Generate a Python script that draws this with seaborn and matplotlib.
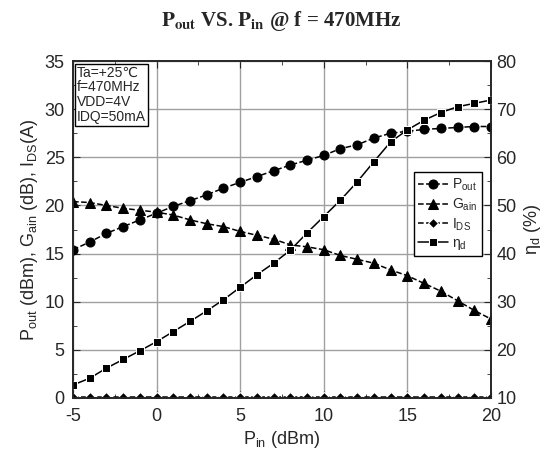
import numpy as np
import pandas as pd
import seaborn as sns
import matplotlib.pyplot as plt
from matplotlib.ticker import MultipleLocator

# data
pin = list(range(-5, 21))
pout = [15.4, 16.2, 17.1, 17.8, 18.5, 19.2, 19.9, 20.5, 21.1, 21.8, 22.4, 23.0, 23.6,
        24.2, 24.7, 25.2, 25.9, 26.3, 27.0, 27.5, 27.7, 27.9, 28.0, 28.1, 28.2, 28.2]
gain = [20.4, 20.3, 20.0, 19.7, 19.5, 19.3, 19.0, 18.5, 18.1, 17.8, 17.3, 16.9, 16.5,
        15.9, 15.7, 15.4, 14.8, 14.4, 14.0, 13.3, 12.7, 11.9, 11.1, 10.1, 9.1, 8.2]
ids = [0.15] * 26
eff = [12.7, 14.1, 16.2, 18.0, 19.8, 21.7, 23.8, 25.9, 28.1, 30.4, 33.0, 35.6, 38.0,
       40.7, 44.3, 47.7, 51.1, 54.9, 59.1, 63.2, 65.7, 67.7, 69.3, 70.5, 71.2, 71.9]

df = pd.DataFrame({"pin": pin, "pout": pout, "gain": gain, "ids": ids, "eff": eff})

sns.set_style("ticks")
plt.rcParams['font.family'] = ['Liberation Sans', 'DejaVu Sans']
plt.rcParams['mathtext.fontset'] = 'custom'
plt.rcParams['mathtext.rm'] = 'Liberation Sans'
plt.rcParams['mathtext.it'] = 'Liberation Sans:italic'
plt.rcParams['axes.unicode_minus'] = False

fig = plt.figure(figsize=(5.51, 4.66), dpi=100)
ax = fig.add_axes([0.1325, 0.146, 0.7585, 0.723])
ax2 = ax.twinx()

kw = dict(color="black", markersize=6.5, linewidth=1.1, markeredgecolor="black")
sns.lineplot(data=df, x="pin", y="pout", ax=ax, marker="o", linestyle="--",
             label=r"P$_{\rm out}$", **kw)
sns.lineplot(data=df, x="pin", y="gain", ax=ax, marker="^", linestyle="--",
             label=r"G$_{\rm ain}$", **kw)
sns.lineplot(data=df, x="pin", y="ids", ax=ax, marker="D", linestyle="--",
             label=r"I$_{\rm DS}$", color="black", markersize=5, linewidth=1.1)
sns.lineplot(data=df, x="pin", y="eff", ax=ax2, marker="s", linestyle="-",
             label="\u03b7$_{\\rm d}$", color="black", markersize=6, linewidth=1.1)

ax.set_xlim(-5, 20)
ax.set_ylim(0, 35)
ax2.set_ylim(10, 80)
ax.xaxis.set_major_locator(MultipleLocator(5))
ax.xaxis.set_minor_locator(MultipleLocator(2.5))
ax.yaxis.set_major_locator(MultipleLocator(5))
ax.yaxis.set_minor_locator(MultipleLocator(2.5))
ax2.yaxis.set_major_locator(MultipleLocator(10))
ax2.yaxis.set_minor_locator(MultipleLocator(5))
ax.grid(True, color="#a0a0a0", linewidth=1.0)
ax.set_axisbelow(True)

ax.tick_params(which="both", direction="in", top=True, labelsize=13)
ax.tick_params(which="major", length=5)
ax.tick_params(which="minor", length=3)
ax.tick_params(axis="x", pad=7)
ax.tick_params(axis="y", pad=6)
ax2.tick_params(which="both", direction="in", labelsize=13)
ax2.tick_params(which="major", length=5, pad=4)
ax2.tick_params(which="minor", length=3)
for a in (ax, ax2):
    for s in a.spines.values():
        s.set_linewidth(1.2)

ax.set_xlabel(r"P$_{\rm in}$ (dBm)", fontsize=13, labelpad=3)
ax.set_ylabel(r"P$_{\rm out}$ (dBm), G$_{\rm ain}$ (dB), I$_{\rm DS}$(A)", fontsize=13, labelpad=3)
ax2.set_ylabel("\u03b7$_{\\rm d}$ (%)", fontsize=13, labelpad=4)

ax.text(-4.75, 34.5, "Ta=+25\u2103\nf=470MHz\nVDD=4V\nIDQ=50mA", fontsize=10,
        va="top", ha="left", linespacing=1.05,
        bbox=dict(boxstyle="square,pad=0.15", facecolor="white", edgecolor="black", linewidth=1))

h1, l1 = ax.get_legend_handles_labels()
h2, l2 = ax2.get_legend_handles_labels()
if ax2.get_legend():
    ax2.get_legend().remove()
ax.legend(h1 + h2, l1 + l2, loc="upper right", bbox_to_anchor=(0.995, 0.69),
          fontsize=10, frameon=True, fancybox=False, edgecolor="black",
          framealpha=1, handlelength=2.2, borderpad=0.3, labelspacing=0.25,
          handletextpad=0.3)

fig.text(0.51, 0.955, r"$\mathbf{P_{out}}$ VS. $\mathbf{P_{in}}$ @ f = 470MHz",
         ha="center", va="center", fontsize=15, fontweight="bold",
         family="Liberation Serif", math_fontfamily="stix")

fig.savefig("out.png", dpi=100)
